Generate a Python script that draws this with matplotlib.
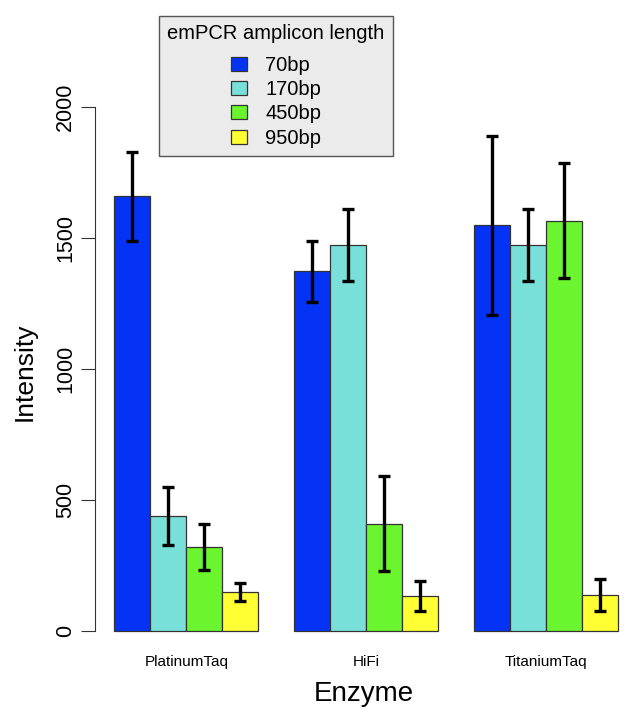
import matplotlib
matplotlib.use("Agg")
import matplotlib.pyplot as plt
import numpy as np

plt.rcParams['font.family'] = ['Liberation Sans', 'DejaVu Sans']

# data
enzymes = ["PlatinumTaq", "HiFi", "TitaniumTaq"]
lengths = ["70bp", "170bp", "450bp", "950bp"]
bp70 = [1660, 1373, 1548]
bp170 = [440, 1472, 1472]
bp450 = [320, 410, 1566]
bp950 = [150, 134, 139]
err70 = [170, 116, 343]
err170 = [110, 138, 138]
err450 = [87, 180, 220]
err950 = [35, 56, 61]
colors = ["#0433F6", "#78E0D8", "#6AF52E", "#FFFF33"]

W, H = 632, 722
fig = plt.figure(figsize=(W / 100, H / 100), dpi=100)

# axes placed in pixels: left axis line at x=95, zero at y=631, 2000 at y=107
px_per_unit = 524 / 2000
ax_left, ax_top, ax_bot = 95, 5, 645
ax = fig.add_axes([ax_left / W, 1 - ax_bot / H, (W - ax_left) / W, (ax_bot - ax_top) / H])
ax.set_ylim(-(ax_bot - 631) / px_per_unit, (631 - ax_top) / px_per_unit)
bar_px = 36.0
ax.set_xlim(1 - (114.3 - ax_left) / bar_px, 1 + (W - 114.3) / bar_px)

values = [bp70, bp170, bp450, bp950]
errs = [err70, err170, err450, err950]
handles = []
for j in range(4):
    xs = [1 + 5 * i + j + 0.5 for i in range(3)]
    b = ax.bar(xs, values[j], width=1.0, color=colors[j], edgecolor="#333333",
               linewidth=0.9, label=lengths[j], zorder=2)
    handles.append(b)
    ax.errorbar(xs, values[j], yerr=errs[j], fmt="none", ecolor="black",
                elinewidth=2.4, capsize=4.3, capthick=2.4, zorder=3)

centers = [1 + 5 * i + 2 for i in range(3)]
ax.set_xticks(centers)
ax.set_xticklabels(enzymes, fontsize=11)
ax.tick_params(axis="x", length=0, pad=7.5)

ax.set_yticks([0, 500, 1000, 1500, 2000])
ax.set_yticklabels(["0", "500", "1000", "1500", "2000"], rotation=90, va="center", fontsize=15.5)
ax.tick_params(axis="y", length=10, width=0.8, pad=3.5, color="#333333")

for s in ["top", "right", "bottom"]:
    ax.spines[s].set_visible(False)
ax.spines["left"].set_bounds(0, 2000)
ax.spines["left"].set_linewidth(0.8)
ax.spines["left"].set_color("#333333")

fig.text(25 / W, 1 - 372 / H, "Intensity", rotation=90, fontsize=19, ha="center", va="center")
fig.text(364 / W, 1 - 694 / H, "Enzyme", fontsize=20, ha="center", va="center")

leg = ax.legend(handles=handles, labels=lengths, title="emPCR amplicon length",
                loc="upper left", bbox_to_anchor=(159 / W, 1 - 16 / H),
                bbox_transform=fig.transFigure, borderaxespad=0,
                fontsize=14.5, title_fontsize=14.5, frameon=True, fancybox=False,
                handlelength=0.8, handleheight=0.7, handletextpad=0.9,
                labelspacing=0.26, borderpad=0.42)
# extra room between the title and the entries
leg._legend_box.sep = 9
frame = leg.get_frame()
frame.set_facecolor("#EBEBEB")
frame.set_edgecolor("#555555")
frame.set_linewidth(1.0)
frame.set_alpha(1)

fig.savefig("out.png", dpi=100)
